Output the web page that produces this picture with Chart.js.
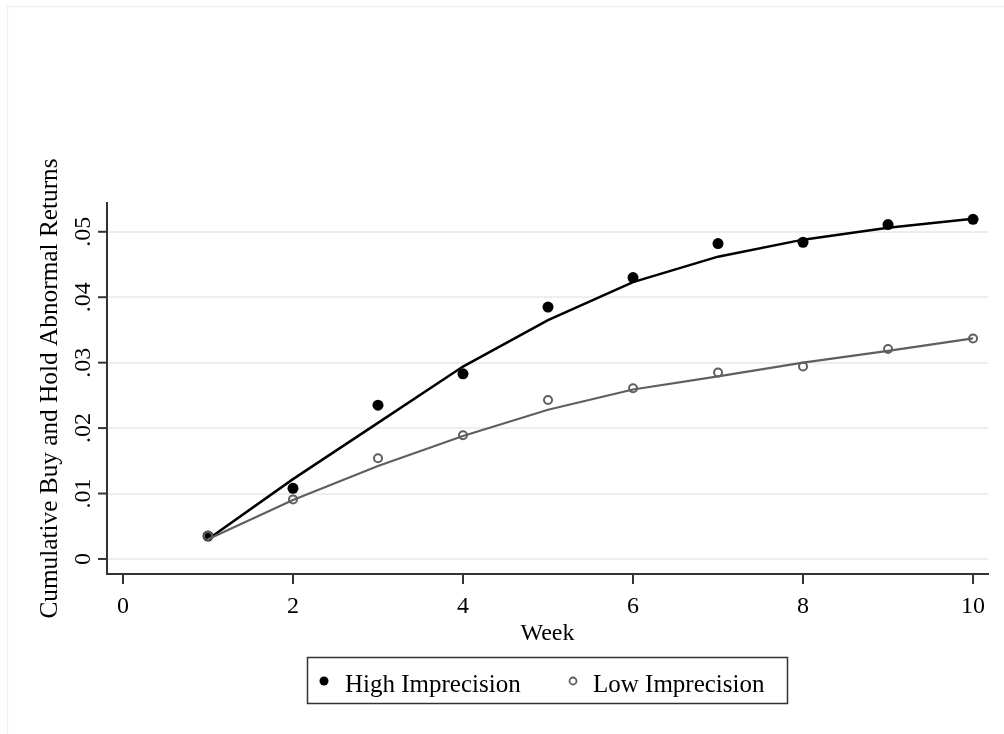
<!DOCTYPE html>
<html>
<head>
<meta charset="utf-8">
<script src="https://cdn.jsdelivr.net/npm/chart.js@4"></script>
<style>
  html, body { margin: 0; padding: 0; background: #fff; }
  #wrap { position: relative; width: 1004px; height: 734px; }
</style>
</head>
<body>
<div id="wrap"><canvas id="chart" width="1004" height="734"></canvas></div>
<script>
const weeks = [1, 2, 3, 4, 5, 6, 7, 8, 9, 10];
const highObs = [0.0035, 0.0108, 0.0235, 0.0283, 0.0385, 0.0430, 0.0482, 0.0484, 0.0511, 0.0519];
const highFit = [0.0030, 0.0122, 0.0208, 0.0294, 0.0365, 0.0423, 0.0462, 0.0488, 0.0506, 0.0520];
const lowObs = [0.0035, 0.0091, 0.0154, 0.0189, 0.0243, 0.0261, 0.0285, 0.0294, 0.0321, 0.0337];
const lowFit = [0.0030, 0.0090, 0.0142, 0.0188, 0.0228, 0.0259, 0.0279, 0.0300, 0.0318, 0.0337];

const xTicks = [0, 2, 4, 6, 8, 10];
const xTickLabels = ["0", "2", "4", "6", "8", "10"];
const yTicks = [0, 0.01, 0.02, 0.03, 0.04, 0.05];
const yTickLabels = ["0", ".01", ".02", ".03", ".04", ".05"];

const xTitle = "Week";
const yTitle = "Cumulative Buy and Hold Abnormal Returns";
const seriesNames = ["High Imprecision", "Low Imprecision"];

const FONT = '"Liberation Serif", "DejaVu Serif", serif';
const GRAY = "#5f5f5f";

function pts(ys) {
  return weeks.map((w, i) => ({ x: w, y: ys[i] }));
}

// axes ticks, labels, titles, outer frame and legend
const decor = {
  id: "decor",
  afterDraw(chart) {
    const { ctx, chartArea, scales } = chart;
    const xs = scales.x;
    const ys = scales.y;
    ctx.save();

    // faint outer frame
    ctx.strokeStyle = "#eef2f2";
    ctx.lineWidth = 1.5;
    ctx.beginPath();
    ctx.moveTo(7.5, 734);
    ctx.lineTo(7.5, 6.5);
    ctx.lineTo(1004, 6.5);
    ctx.stroke();

    ctx.strokeStyle = "#333";
    ctx.lineWidth = 2;
    ctx.fillStyle = "#000";

    // y ticks + rotated labels
    ctx.font = "24px " + FONT;
    yTicks.forEach((v, i) => {
      const py = ys.getPixelForValue(v);
      ctx.beginPath();
      ctx.moveTo(chartArea.left - 9, py);
      ctx.lineTo(chartArea.left, py);
      ctx.stroke();
      ctx.save();
      ctx.translate(90, py);
      ctx.rotate(-Math.PI / 2);
      ctx.textAlign = "center";
      ctx.textBaseline = "alphabetic";
      ctx.fillText(yTickLabels[i], 0, 0);
      ctx.restore();
    });

    // x ticks + labels
    xTicks.forEach((v, i) => {
      const px = xs.getPixelForValue(v);
      ctx.beginPath();
      ctx.moveTo(px, chartArea.bottom);
      ctx.lineTo(px, chartArea.bottom + 10);
      ctx.stroke();
      ctx.textAlign = "center";
      ctx.textBaseline = "alphabetic";
      ctx.fillText(xTickLabels[i], px, 613);
    });

    // titles
    ctx.font = "24px " + FONT;
    ctx.textAlign = "center";
    ctx.fillText(xTitle, (chartArea.left + chartArea.right) / 2, 640);
    ctx.save();
    ctx.font = "25.3px " + FONT;
    ctx.translate(57, (chartArea.top + chartArea.bottom) / 2);
    ctx.rotate(-Math.PI / 2);
    ctx.fillText(yTitle, 0, 0);
    ctx.restore();

    // legend
    ctx.strokeStyle = "#333";
    ctx.lineWidth = 1.5;
    ctx.strokeRect(307.5, 657.5, 480, 46);
    ctx.beginPath();
    ctx.arc(324, 681, 4.5, 0, Math.PI * 2);
    ctx.fillStyle = "#000";
    ctx.fill();
    ctx.beginPath();
    ctx.arc(573, 681, 3.5, 0, Math.PI * 2);
    ctx.strokeStyle = GRAY;
    ctx.lineWidth = 1.8;
    ctx.stroke();
    ctx.fillStyle = "#000";
    ctx.font = "25px " + FONT;
    ctx.textAlign = "left";
    ctx.fillText(seriesNames[0], 345, 692);
    ctx.fillText(seriesNames[1], 593, 692);

    ctx.restore();
  }
};

new Chart(document.getElementById("chart"), {
  type: "scatter",
  data: {
    datasets: [
      {
        label: seriesNames[1] + " fit",
        data: pts(lowFit),
        showLine: true,
        borderColor: GRAY,
        borderWidth: 2.2,
        pointRadius: 0,
        tension: 0
      },
      {
        label: seriesNames[1],
        data: pts(lowObs),
        showLine: false,
        pointRadius: 4,
        pointBorderWidth: 2,
        pointBorderColor: GRAY,
        pointBackgroundColor: "rgba(255,255,255,0)"
      },
      {
        label: seriesNames[0] + " fit",
        data: pts(highFit),
        showLine: true,
        borderColor: "#000",
        borderWidth: 2.5,
        pointRadius: 0,
        tension: 0
      },
      {
        label: seriesNames[0],
        data: pts(highObs),
        showLine: false,
        pointRadius: 5.5,
        pointBorderWidth: 0,
        pointBackgroundColor: "#000"
      }
    ]
  },
  options: {
    responsive: false,
    animation: false,
    devicePixelRatio: 1,
    layout: { padding: { left: 107, right: 16, top: 203, bottom: 160 } },
    plugins: { legend: { display: false }, tooltip: { enabled: false } },
    scales: {
      x: {
        type: "linear",
        min: -0.188,
        max: 10.176,
        ticks: { display: false },
        grid: { display: false, drawTicks: false },
        border: { display: true, color: "#333", width: 2 }
      },
      y: {
        type: "linear",
        min: -0.0023,
        max: 0.0544,
        afterBuildTicks: (scale) => { scale.ticks = yTicks.map((v) => ({ value: v })); },
        ticks: { display: false },
        grid: { color: "#e8f0f1", lineWidth: 2, drawTicks: false },
        border: { display: true, color: "#333", width: 2 }
      }
    }
  },
  plugins: [decor]
});
</script>
</body>
</html>
